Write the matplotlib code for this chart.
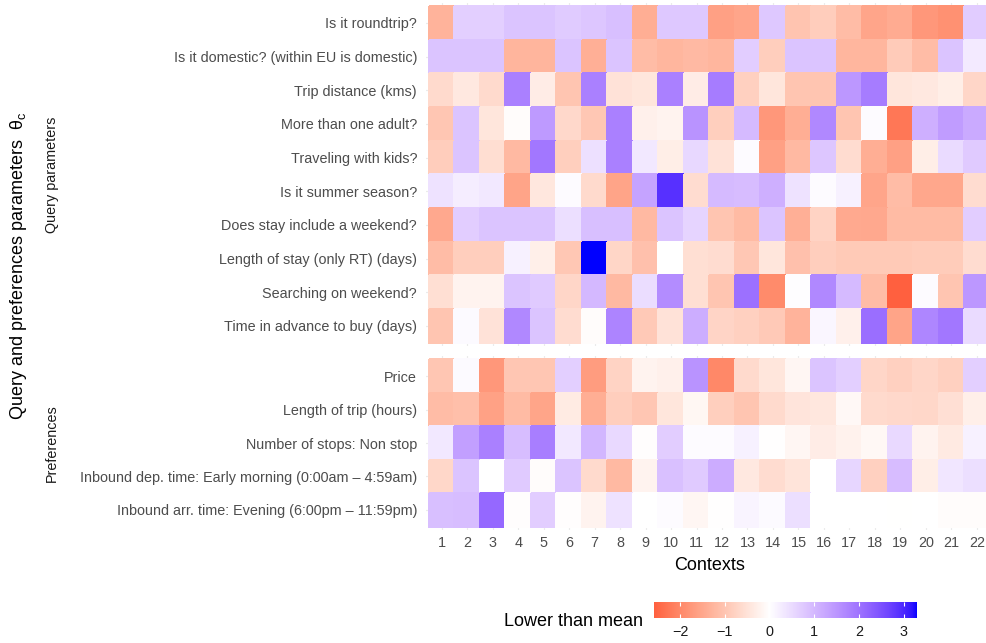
import numpy as np
import matplotlib
matplotlib.use("Agg")
import matplotlib.pyplot as plt
from matplotlib.colors import ListedColormap, Normalize

plt.rcParams['font.family'] = ['Liberation Sans', 'DejaVu Sans']
plt.rcParams['mathtext.fontset'] = 'custom'
plt.rcParams['mathtext.rm'] = 'Liberation Sans'
plt.rcParams['mathtext.it'] = 'Liberation Sans:italic'

contexts = list(range(1, 23))

query_labels = [
    "Is it roundtrip?",
    "Is it domestic? (within EU is domestic)",
    "Trip distance (kms)",
    "More than one adult?",
    "Traveling with kids?",
    "Is it summer season?",
    "Does stay include a weekend?",
    "Length of stay (only RT) (days)",
    "Searching on weekend?",
    "Time in advance to buy (days)",
]
pref_labels = [
    "Price",
    "Length of trip (hours)",
    "Number of stops: Non stop",
    "Inbound dep. time: Early morning (0:00am \u2013 4:59am)",
    "Inbound arr. time: Evening (6:00pm \u2013 11:59pm)",
]

query_values = [
    [-1.29, 0.67, 0.67, 0.84, 0.84, 0.73, 0.80, 0.90, -1.39, 0.78, 0.78, -1.61, -1.53, 0.78, -1.02, -0.86, -1.14, -1.53, -1.44, -1.75, -1.85, 0.72],
    [0.84, 0.84, 0.84, -1.27, -1.27, 0.84, -1.36, 0.84, -1.14, -1.25, -1.19, -1.25, 0.70, -0.85, 0.84, 0.84, -1.25, -1.25, -0.90, -1.15, 0.84, 0.30],
    [-0.63, -0.39, -0.63, 1.81, -0.32, -1.00, 1.81, -0.50, -0.44, 1.81, -0.32, 1.87, -0.81, -0.44, -1.00, -1.00, 1.47, 1.87, -0.44, -0.39, -0.30, -0.70],
    [-0.98, 0.84, -0.44, -0.05, 1.43, -0.66, -0.96, 1.81, -0.25, -0.20, 1.54, -0.83, 0.97, -1.75, -1.39, 1.70, -1.00, 0.05, -2.25, 1.13, 1.40, 1.20],
    [-0.86, 0.84, -0.58, -1.20, 1.93, -0.83, 0.43, 1.81, 0.33, -0.30, 0.55, -0.50, 0.05, -1.61, -1.20, 0.80, -0.60, -1.39, -1.61, -0.30, 0.50, 0.75],
    [0.40, 0.25, 0.33, -1.56, -0.42, 0.05, -0.63, -1.56, 1.31, 2.90, -0.60, 0.97, 0.94, 1.13, 0.40, 0.05, 0.20, -1.53, -1.14, -1.50, -1.50, -0.60],
    [-1.48, 0.70, 0.84, 0.84, 0.84, 0.45, 0.90, 0.90, -1.20, 0.84, 0.60, -1.00, -1.17, 0.84, -1.37, -0.75, -1.46, -1.48, -1.17, -1.17, -1.17, 0.70],
    [-1.14, -0.85, -0.85, 0.20, -0.27, -0.96, 3.30, -0.71, -1.08, 0.00, -0.56, -0.60, -0.96, -0.44, -1.08, -0.85, -0.92, -0.92, -0.92, -0.88, -0.88, -0.60],
    [-0.56, -0.20, -0.20, 0.84, 0.75, -0.70, 1.00, -1.20, 0.48, 1.64, -0.56, -1.00, 2.04, -1.95, 0.03, 1.70, 0.97, -1.15, -2.58, 0.05, -1.00, 1.47],
    [-1.00, 0.07, -0.50, 1.70, 0.84, -0.60, -0.05, 1.75, -0.93, -0.50, 1.16, -0.73, -0.80, -0.93, -1.29, 0.12, -0.25, 2.07, -1.56, 1.73, 1.93, 0.50],
]
pref_values = [
    [-0.98, 0.07, -1.75, -0.98, -0.98, 0.68, -1.68, -0.75, -0.20, -0.25, 1.53, -2.00, -0.63, -0.44, -0.15, 0.84, 0.68, -0.70, -0.80, -0.70, -0.80, 0.68],
    [-1.14, -1.10, -1.60, -1.17, -1.54, -0.35, -1.39, -0.85, -0.98, -0.44, -0.14, -0.83, -1.00, -0.63, -0.46, -0.42, -0.12, -0.63, -0.66, -0.68, -0.55, -0.27],
    [0.33, 1.36, 1.81, 0.93, 1.84, 0.33, 1.03, 0.53, -0.03, 0.70, 0.05, 0.05, 0.20, -0.02, -0.15, -0.32, -0.22, -0.13, 0.53, -0.20, -0.36, 0.20],
    [-0.68, 0.84, 0.00, 0.75, -0.05, 0.84, -0.63, -1.20, -0.20, 0.88, 0.75, 1.17, -0.39, -0.60, -0.47, 0.00, 0.57, -0.80, 0.94, -0.30, 0.35, 0.45],
    [0.90, 0.93, 2.15, -0.03, 0.70, -0.03, -0.20, 0.40, 0.00, 0.05, -0.15, -0.02, 0.15, 0.07, 0.45, 0.00, 0.00, 0.00, -0.01, 0.00, -0.05, -0.05],
]
cbar_ticks = [-2, -1, 0, 1, 2, 3]

# ---- Lab-space diverging palette (low red, mid white, high blue) ----
def srgb_to_lab(rgb):
    rgb = np.asarray(rgb, float)
    lin = np.where(rgb <= 0.04045, rgb / 12.92, ((rgb + 0.055) / 1.055) ** 2.4)
    M = np.array([[0.4124, 0.3576, 0.1805], [0.2126, 0.7152, 0.0722], [0.0193, 0.1192, 0.9505]])
    xyz = M @ lin
    xyz = xyz / np.array([0.95047, 1.0, 1.08883])
    f = np.where(xyz > 0.008856, np.cbrt(xyz), 7.787 * xyz + 16 / 116)
    return np.array([116 * f[1] - 16, 500 * (f[0] - f[1]), 200 * (f[1] - f[2])])

def lab_to_srgb(lab):
    L, a, b = lab[..., 0], lab[..., 1], lab[..., 2]
    fy = (L + 16) / 116
    fx = fy + a / 500
    fz = fy - b / 200
    def finv(t):
        return np.where(t ** 3 > 0.008856, t ** 3, (t - 16 / 116) / 7.787)
    xyz = np.stack([finv(fx) * 0.95047, finv(fy), finv(fz) * 1.08883], -1)
    Minv = np.array([[3.2406, -1.5372, -0.4986], [-0.9689, 1.8758, 0.0415], [0.0557, -0.2040, 1.0570]])
    lin = xyz @ Minv.T
    lin = np.clip(lin, 0, 1)
    srgb = np.where(lin <= 0.0031308, 12.92 * lin, 1.055 * lin ** (1 / 2.4) - 0.055)
    return np.clip(srgb, 0, 1)

lab_low = srgb_to_lab([1, 0, 0])
lab_mid = srgb_to_lab([1, 1, 1])
lab_high = srgb_to_lab([0, 0, 1])

allv = np.array(query_values + pref_values)
vmin, vmax = allv.min(), allv.max()
mx = max(abs(vmin), abs(vmax))
samples = np.linspace(vmin, vmax, 600)
tt = samples / mx
labs = np.where(tt[:, None] < 0,
                lab_mid + (-tt[:, None]) * (lab_low - lab_mid),
                lab_mid + tt[:, None] * (lab_high - lab_mid))
cmap = ListedColormap(lab_to_srgb(labs))
norm = Normalize(vmin, vmax)

W, H = 987, 643
fig = plt.figure(figsize=(W / 100, H / 100), dpi=100)

def px_axes(x0, y0, x1, y1):
    return fig.add_axes([x0 / W, 1 - y1 / H, (x1 - x0) / W, (y1 - y0) / H])

colw = 25.48
tile_left = 429.0
ax_x0 = tile_left - 0.1 * colw
ax_x1 = tile_left + 22.1 * colw

qrow = 33.67
q_top, q_bot = 6.0, 6.0 + 10 * qrow
prow = 33.48
p_top = 359.3
p_bot = p_top + 5 * prow

axq = px_axes(ax_x0, q_top - 0.1 * qrow, ax_x1, q_bot + 0.1 * qrow)
axp = px_axes(ax_x0, p_top - 0.1 * prow, ax_x1, p_bot + 0.1 * prow)

tick_color = '#4D4D4D'
for ax, vals, labels in [(axq, query_values, query_labels), (axp, pref_values, pref_labels)]:
    arr = np.array(vals)
    nr = arr.shape[0]
    xe = np.arange(len(contexts) + 1) + 0.5
    ye = np.arange(nr + 1) + 0.5
    ax.set_axisbelow(True)
    ax.pcolormesh(xe, ye, arr, cmap=cmap, norm=norm, edgecolors='face', linewidth=0.3, zorder=2)
    ax.set_xlim(0.4, len(contexts) + 0.6)
    ax.set_ylim(nr + 0.6, 0.4)
    ax.set_xticks(contexts)
    ax.set_yticks(np.arange(1, nr + 1))
    ax.set_yticklabels(labels)
    ax.grid(True, color='#EBEBEB', linewidth=0.8, zorder=0)
    for s in ax.spines.values():
        s.set_visible(False)
    ax.tick_params(axis='y', length=0, pad=6.8, labelsize=10.4, labelcolor=tick_color)
    ax.tick_params(axis='x', length=0, pad=4.5, labelsize=10.4, labelcolor=tick_color)

axq.tick_params(axis='x', labelbottom=False)
axp.set_xticklabels([str(c) for c in contexts])

# strip labels
fig.text(52 / W, 1 - ((q_top + q_bot) / 2) / H, "Query parameters", rotation=90,
         ha='center', va='center', fontsize=10.4, color='#1A1A1A')
fig.text(52 / W, 1 - ((p_top + p_bot) / 2) / H, "Preferences", rotation=90,
         ha='center', va='center', fontsize=10.4, color='#1A1A1A')

# axis titles
fig.text(19 / W, 1 - 266 / H, r"Query and preferences parameters  θ$_\mathregular{c}$", rotation=90,
         ha='center', va='center', fontsize=13, color='black')
fig.text(((ax_x0 + ax_x1) / 2) / W, 1 - 565 / H, "Contexts", ha='center', va='center',
         fontsize=13, color='black')

# colorbar legend
cax = px_axes(654, 602, 917, 618)
sm = plt.cm.ScalarMappable(norm=norm, cmap=cmap)
cb = fig.colorbar(sm, cax=cax, orientation='horizontal', ticks=cbar_ticks)
cb.outline.set_visible(False)
cax.tick_params(axis='x', direction='in', length=3, width=0.8, color='white',
                top=True, bottom=True, labelsize=10.4, labelcolor='#1A1A1A', pad=5)
fig.text(643 / W, 1 - 622 / H, "Lower than mean", ha='right', va='center', fontsize=13, color='black')

fig.savefig("out.png", dpi=100)
